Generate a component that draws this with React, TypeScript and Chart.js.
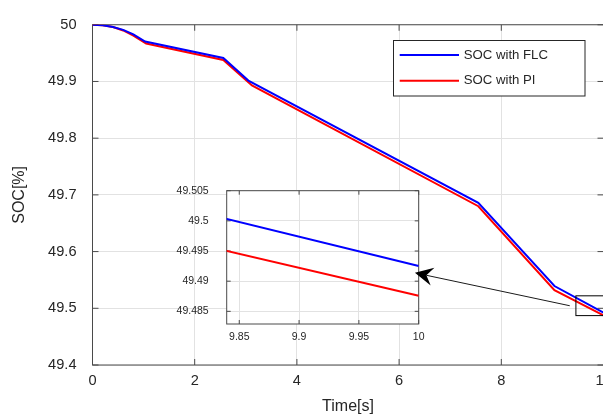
import React, { useEffect, useRef } from "react";
import { Chart, registerables } from "chart.js";

Chart.register(...registerables);

// ---- data ----
const timeFLC = [0, 0.2, 0.4, 0.6, 0.8, 1.03, 2.56, 3.05, 7.55, 9.04, 10];
const socFLC = [50, 49.999, 49.996, 49.991, 49.983, 49.9705, 49.9415, 49.9016, 49.686, 49.5393, 49.4925];
const timePI = [0, 0.2, 0.4, 0.6, 0.8, 1.05, 2.56, 3.12, 7.55, 9.04, 10];
const socPI = [50, 49.999, 49.996, 49.99, 49.981, 49.967, 49.938, 49.893, 49.68, 49.532, 49.4876];
const seriesLabels = ["SOC with FLC", "SOC with PI"];
const seriesColors = ["#0000ff", "#ff0000"];
const mainXTicks = [0, 2, 4, 6, 8, 10];
const mainYTicks = [49.4, 49.5, 49.6, 49.7, 49.8, 49.9, 50];
const insetXTicks = [9.85, 9.9, 9.95, 10];
const insetYTicks = [49.485, 49.49, 49.495, 49.5, 49.505];

// ---- style ----
const W = 640;
const H = 416;
const FONT = "'Liberation Sans', Arial, Helvetica, sans-serif";
const TEXT = "#262626";
const GRID = "#e2e2e2";
const AXIS = "#4a4a4a";

const fmt = (v: number) => String(parseFloat(Number(v).toFixed(4)));

const makeDatasets = () => [
  {
    label: seriesLabels[0],
    data: timeFLC.map((t, i) => ({ x: t, y: socFLC[i] })),
    borderColor: seriesColors[0],
    backgroundColor: seriesColors[0],
    borderWidth: 2,
    pointRadius: 0,
    tension: 0,
    fill: false,
  },
  {
    label: seriesLabels[1],
    data: timePI.map((t, i) => ({ x: t, y: socPI[i] })),
    borderColor: seriesColors[1],
    backgroundColor: seriesColors[1],
    borderWidth: 2,
    pointRadius: 0,
    tension: 0,
    fill: false,
  },
];

function axesBoxPlugin(id: string, tickLen: number, fillWhite: boolean) {
  return {
    id,
    beforeDraw(chart: any) {
      if (!fillWhite) return;
      const { ctx, chartArea: a } = chart;
      ctx.save();
      ctx.fillStyle = "#ffffff";
      ctx.fillRect(a.left, a.top, a.right - a.left, a.bottom - a.top);
      ctx.restore();
    },
    beforeDatasetsDraw(chart: any) {
      const { ctx, chartArea: a, scales } = chart;
      ctx.save();
      ctx.strokeStyle = AXIS;
      ctx.lineWidth = 1;
      ctx.beginPath();
      for (const t of scales.x.ticks) {
        const px = scales.x.getPixelForValue(t.value);
        ctx.moveTo(px, a.bottom);
        ctx.lineTo(px, a.bottom - tickLen);
        ctx.moveTo(px, a.top);
        ctx.lineTo(px, a.top + tickLen);
      }
      for (const t of scales.y.ticks) {
        const py = scales.y.getPixelForValue(t.value);
        ctx.moveTo(a.left, py);
        ctx.lineTo(a.left + tickLen, py);
        ctx.moveTo(a.right, py);
        ctx.lineTo(a.right - tickLen, py);
      }
      ctx.stroke();
      ctx.strokeRect(a.left, a.top, a.right - a.left, a.bottom - a.top);
      ctx.restore();
    },
  };
}

const legendPlugin = {
  id: "boxLegend",
  afterDraw(chart: any) {
    const { ctx } = chart;
    const x0 = 393.5;
    const y0 = 40.5;
    const w = 191.5;
    const h = 55.5;
    ctx.save();
    ctx.fillStyle = "#ffffff";
    ctx.fillRect(x0, y0, w, h);
    ctx.strokeStyle = TEXT;
    ctx.lineWidth = 1;
    ctx.strokeRect(x0, y0, w, h);
    chart.data.datasets.forEach((ds: any, i: number) => {
      const y = 55 + i * 25.7;
      ctx.strokeStyle = ds.borderColor;
      ctx.lineWidth = 2;
      ctx.beginPath();
      ctx.moveTo(399.7, y);
      ctx.lineTo(459, y);
      ctx.stroke();
      ctx.fillStyle = TEXT;
      ctx.font = `13.2px ${FONT}`;
      ctx.textBaseline = "middle";
      ctx.textAlign = "left";
      ctx.fillText(ds.label, 463.7, y);
    });
    ctx.restore();
  },
};

export default function App() {
  const mainRef = useRef<HTMLCanvasElement | null>(null);
  const insetRef = useRef<HTMLCanvasElement | null>(null);

  useEffect(() => {
    if (!mainRef.current || !insetRef.current) return;

    const main = new Chart(mainRef.current, {
      type: "line",
      data: { datasets: makeDatasets() as any },
      options: {
        responsive: false,
        animation: false,
        devicePixelRatio: 1,
        layout: { padding: { left: 0, top: 20.5, right: W - 603.5, bottom: 0 } },
        plugins: { legend: { display: false }, tooltip: { enabled: false } },
        scales: {
          x: {
            type: "linear",
            min: 0,
            max: 10,
            afterBuildTicks: (s: any) => {
              s.ticks = mainXTicks.map((v) => ({ value: v }));
            },
            afterFit: (s: any) => {
              s.height = 51;
            },
            grid: { color: GRID, drawTicks: false, lineWidth: 1 },
            border: { display: false },
            ticks: {
              color: TEXT,
              font: { family: FONT, size: 14.6 },
              padding: 7,
              maxRotation: 0,
              callback: (v: any) => fmt(v),
            },
            title: {
              display: true,
              text: "Time[s]",
              color: TEXT,
              font: { family: FONT, size: 16 },
              padding: { top: 0, bottom: 0 },
            },
          },
          y: {
            type: "linear",
            min: 49.4,
            max: 50,
            afterBuildTicks: (s: any) => {
              s.ticks = mainYTicks.map((v) => ({ value: v }));
            },
            afterFit: (s: any) => {
              s.width = 92.5;
            },
            grid: { color: GRID, drawTicks: false, lineWidth: 1 },
            border: { display: false },
            ticks: {
              color: TEXT,
              font: { family: FONT, size: 14.6 },
              padding: 16,
              callback: (v: any) => fmt(v),
            },
            title: {
              display: true,
              text: "SOC[%]",
              color: TEXT,
              font: { family: FONT, size: 16 },
              padding: { top: 10, bottom: 0 },
            },
          },
        },
      },
      plugins: [axesBoxPlugin("mainBox", 6, false), legendPlugin],
    } as any);

    const arrowPlugin = {
      id: "zoomArrow",
      afterDraw(chart: any) {
        const { ctx } = chart;
        const sx = main.scales.x;
        const sy = main.scales.y;
        // zoom rectangle on the main plot
        const rx0 = sx.getPixelForValue(9.46);
        const rx1 = sx.getPixelForValue(10.4);
        const ry0 = sy.getPixelForValue(49.522);
        const ry1 = sy.getPixelForValue(49.4871);
        ctx.save();
        ctx.strokeStyle = "#000000";
        ctx.lineWidth = 1;
        ctx.strokeRect(rx0, ry0, rx1 - rx0, ry1 - ry0);
        // arrow
        const tx = sx.getPixelForValue(9.34);
        const ty = sy.getPixelForValue(49.5045);
        const hx = sx.getPixelForValue(6.31);
        const hy = sy.getPixelForValue(49.5625);
        const dx = hx - tx;
        const dy = hy - ty;
        const len = Math.hypot(dx, dy);
        const ux = dx / len;
        const uy = dy / len;
        const nx = -uy;
        const ny = ux;
        const L = 18;
        const hw = 9;
        const bx = hx - ux * L;
        const by = hy - uy * L;
        const mx = hx - ux * L * 0.65;
        const my = hy - uy * L * 0.65;
        ctx.strokeStyle = "#1a1a1a";
        ctx.beginPath();
        ctx.moveTo(tx, ty);
        ctx.lineTo(mx, my);
        ctx.stroke();
        ctx.fillStyle = "#000000";
        ctx.beginPath();
        ctx.moveTo(hx, hy);
        ctx.lineTo(bx + nx * hw, by + ny * hw);
        ctx.lineTo(mx, my);
        ctx.lineTo(bx - nx * hw, by - ny * hw);
        ctx.closePath();
        ctx.fill();
        ctx.restore();
      },
    };

    const inset = new Chart(insetRef.current, {
      type: "line",
      data: { datasets: makeDatasets() as any },
      options: {
        responsive: false,
        animation: false,
        devicePixelRatio: 1,
        layout: { padding: { left: 226.7 - 60, top: 190.7, right: W - 418.7, bottom: H - 324 - 30 } },
        plugins: { legend: { display: false }, tooltip: { enabled: false } },
        scales: {
          x: {
            type: "linear",
            min: 9.8395,
            max: 10,
            afterBuildTicks: (s: any) => {
              s.ticks = insetXTicks.map((v) => ({ value: v }));
            },
            afterFit: (s: any) => {
              s.height = 30;
            },
            grid: { color: GRID, drawTicks: false, lineWidth: 1 },
            border: { display: false },
            ticks: {
              color: TEXT,
              font: { family: FONT, size: 10.5 },
              padding: 7,
              maxRotation: 0,
              autoSkip: false,
              callback: (v: any) => fmt(v),
            },
          },
          y: {
            type: "linear",
            min: 49.4829,
            max: 49.505,
            afterBuildTicks: (s: any) => {
              s.ticks = insetYTicks.map((v) => ({ value: v }));
            },
            afterFit: (s: any) => {
              s.width = 60;
            },
            grid: { color: GRID, drawTicks: false, lineWidth: 1 },
            border: { display: false },
            ticks: {
              color: TEXT,
              font: { family: FONT, size: 10.5 },
              padding: 18,
              autoSkip: false,
              callback: (v: any) => fmt(v),
            },
          },
        },
      },
      plugins: [axesBoxPlugin("insetBox", 4, true), arrowPlugin],
    } as any);

    return () => {
      inset.destroy();
      main.destroy();
    };
  }, []);

  return (
    <div
      style={{
        position: "fixed",
        left: 0,
        top: 0,
        width: 603,
        height: 416,
        overflow: "hidden",
        background: "#ffffff",
      }}
    >
      <canvas
        ref={mainRef}
        width={W}
        height={H}
        style={{ position: "absolute", left: 0, top: 0, width: W, height: H }}
      />
      <canvas
        ref={insetRef}
        width={W}
        height={H}
        style={{ position: "absolute", left: 0, top: 0, width: W, height: H }}
      />
    </div>
  );
}
